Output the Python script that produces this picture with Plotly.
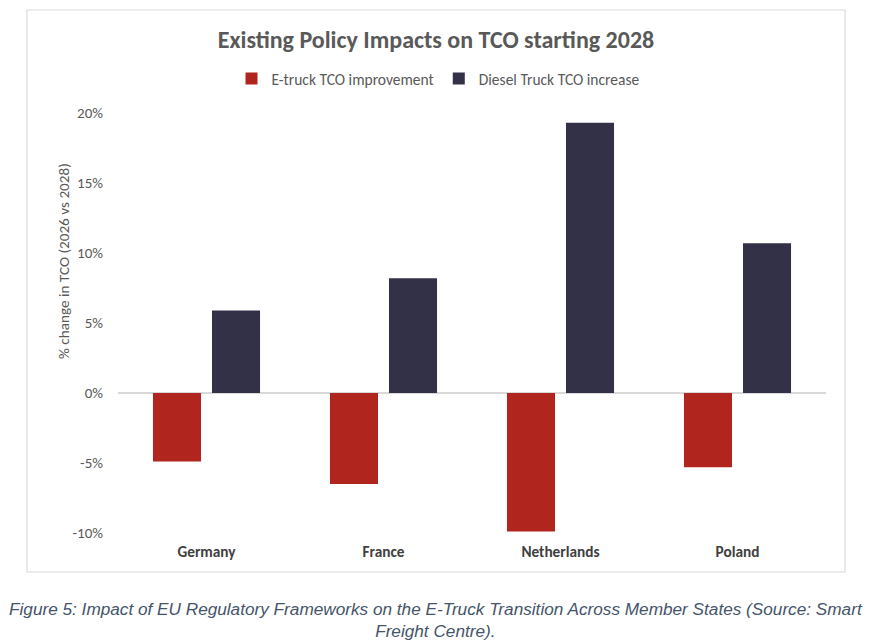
import plotly.graph_objects as go

countries = ["Germany", "France", "Netherlands", "Poland"]
etruck_improvement = [-0.049, -0.065, -0.099, -0.053]
diesel_increase = [0.059, 0.082, 0.193, 0.107]
y_tickvals = [-0.10, -0.05, 0.0, 0.05, 0.10, 0.15, 0.20]
y_ticktext = ["-10%", "-5%", "0%", "5%", "10%", "15%", "20%"]

title_text = "Existing Policy Impacts on TCO starting 2028"
y_title = "% change in TCO (2026 vs 2028)"
caption = ("Figure 5: Impact of EU Regulatory Frameworks on the E-Truck Transition Across Member States (Source: Smart<br>"
           "Freight Centre).")

FONT = "Carlito, Calibri, Lato, sans-serif"
RED = "#B0261E"
NAVY = "#333148"
GRAY = "#595959"

OFF = 8  # page margin of the browser
W, H = 877 - OFF, 643 - OFF
# plot area in reference pixels: x 118..826, y 113..533
L = 118 - OFF
T = 113 - OFF
R = W - (826 - OFF)
B = H - (533 - OFF)
pw, ph = W - L - R, H - T - B

def px(x):
    return (x - OFF - L) / pw

def py(y):
    return (H - B - (y - OFF)) / ph

fig = go.Figure()
fig.add_trace(go.Bar(x=countries, y=etruck_improvement, name="E-truck TCO improvement",
                     marker=dict(color=RED, line=dict(width=0))))
fig.add_trace(go.Bar(x=countries, y=diesel_increase, name="Diesel Truck TCO increase",
                     marker=dict(color=NAVY, line=dict(width=0))))

fig.update_layout(
    width=W, height=H,
    margin=dict(l=L, r=R, t=T, b=B, autoexpand=False),
    paper_bgcolor="white", plot_bgcolor="white",
    barmode="group", bargap=0.333, bargroupgap=0.186,
    font=dict(family=FONT, color=GRAY, size=15),
    title=dict(text=title_text, x=(436 - OFF) / W, xref="container", xanchor="center",
               y=1 - (40 - OFF) / H, yref="container", yanchor="middle",
               font=dict(family=FONT, size=24, color=GRAY, weight="bold")),
    legend=dict(orientation="h", x=px(438), xanchor="center", y=py(79), yanchor="middle",
                font=dict(family=FONT, size=15.5, color=GRAY), itemwidth=30,
                bgcolor="rgba(0,0,0,0)"),
    showlegend=True,
)
fig.update_xaxes(showgrid=False, showline=False, ticks="", zeroline=False,
                 ticklabelstandoff=8,
                 tickfont=dict(family=FONT, size=15.3, color="#404040", weight="bold"))
fig.update_yaxes(range=[-0.10, 0.20], tickvals=y_tickvals, ticktext=y_ticktext,
                 showgrid=False, showline=False, ticks="",
                 zeroline=True, zerolinecolor="#D9D9D9", zerolinewidth=1.5,
                 ticklabelstandoff=14,
                 tickfont=dict(family=FONT, size=15, color=GRAY))

# y-axis title (placed as in the reference, above the plot centre)
fig.add_annotation(text=y_title, xref="paper", yref="paper", x=px(64), y=py(261),
                   xanchor="center", yanchor="middle", textangle=-90, showarrow=False,
                   font=dict(family=FONT, size=15.2, color=GRAY))

fig.add_shape(type="rect", xref="paper", yref="paper",
              x0=px(27), x1=px(845), y0=py(572), y1=py(10),
              line=dict(color="#D9D9D9", width=1.2), fillcolor="rgba(0,0,0,0)", layer="below")

fig.add_annotation(text=caption, xref="paper", yref="paper", x=px(436), y=py(620),
                   xanchor="center", yanchor="middle", showarrow=False, align="center",
                   font=dict(family="'Liberation Sans', Arial, sans-serif", size=17.2, color="#44546A",
                             style="italic"))

fig.write_html("out.html")
